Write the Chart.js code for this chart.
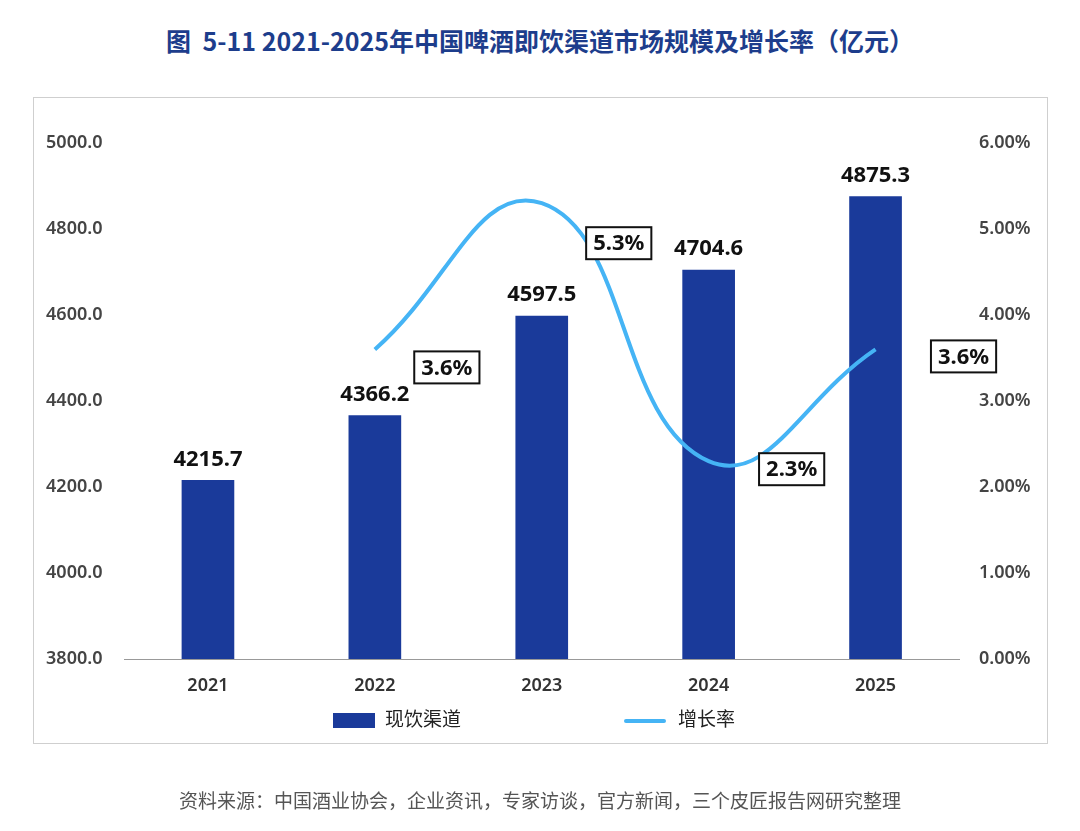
<!DOCTYPE html>
<html>
<head>
<meta charset="utf-8">
<script src="https://cdn.jsdelivr.net/npm/chart.js@4"></script>
<style>
  body { margin: 0; background: #fff; font-family: "Noto Sans CJK SC", "Noto Sans", sans-serif; }
  #wrap { position: relative; width: 1080px; height: 831px; }
  #title { position: absolute; top: 22px; left: 0; width: 1080px; text-align: center; font-size: 25px; font-weight: bold; color: #1d3d8c; }
  #frame { position: absolute; left: 33px; top: 97px; width: 1013px; height: 645px; border: 1px solid #cfcfcf; }
  canvas { position: absolute; left: 0; top: 0; }
  .leg { position: absolute; top: 704px; font-size: 19px; color: #222; }
  #source { position: absolute; top: 786px; left: 0; width: 1080px; text-align: center; font-size: 19px; color: #555; }
</style>
</head>
<body>
<div id="wrap">
  <div id="title">图&nbsp; 5-11 2021-2025年中国啤酒即饮渠道市场规模及增长率（亿元）</div>
  <div id="frame"></div>
  <canvas id="c" width="1080" height="831"></canvas>
  <div class="leg" style="left:333px;"><span style="display:inline-block;width:42px;height:15px;background:#1a3a9a;vertical-align:middle;margin-right:10px;"></span>现饮渠道</div>
  <div class="leg" style="left:624px;"><span style="display:inline-block;width:42px;height:4px;background:#45b4f5;vertical-align:middle;margin-right:12px;border-radius:2px;"></span>增长率</div>
  <div id="source">资料来源：中国酒业协会，企业资讯，专家访谈，官方新闻，三个皮匠报告网研究整理</div>
</div>
<script>
// data
const years = ["2021", "2022", "2023", "2024", "2025"];
const marketSize = [4215.7, 4366.2, 4597.5, 4704.6, 4875.3];
const growthRate = [null, 3.6, 5.3, 2.3, 3.6];

// draws value labels above bars and boxed labels beside line points
const labelPlugin = {
  id: "labels",
  afterDatasetsDraw(chart) {
    const ctx = chart.ctx;
    ctx.save();
    ctx.font = "bold 22px 'Noto Sans', sans-serif";
    ctx.fillStyle = "#111";
    ctx.textAlign = "center";
    ctx.textBaseline = "bottom";
    chart.getDatasetMeta(0).data.forEach((bar, i) => {
      ctx.fillText(marketSize[i].toFixed(1), bar.x, bar.y - 10);
    });
    const offsets = [null, [72, 18], [77, 40], [83, 8], [88, 7]];
    chart.getDatasetMeta(1).data.forEach((pt, i) => {
      if (growthRate[i] == null) return;
      const txt = growthRate[i].toFixed(1) + "%";
      const cx = pt.x + offsets[i][0], cy = pt.y + offsets[i][1];
      const w = ctx.measureText(txt).width + 14, h = 32;
      ctx.fillStyle = "#fff";
      ctx.fillRect(cx - w / 2, cy - h / 2, w, h);
      ctx.strokeStyle = "#111";
      ctx.lineWidth = 2;
      ctx.strokeRect(cx - w / 2, cy - h / 2, w, h);
      ctx.fillStyle = "#111";
      ctx.textBaseline = "middle";
      ctx.fillText(txt, cx, cy + 1);
    });
    ctx.restore();
  }
};

const tickFont = { size: 18, weight: "600", family: "'Noto Sans', sans-serif" };

new Chart(document.getElementById("c"), {
  type: "bar",
  data: {
    labels: years,
    datasets: [
      {
        label: "现饮渠道",
        data: marketSize,
        backgroundColor: "#1a3a9a",
        barThickness: 52,
        yAxisID: "y",
        order: 2
      },
      {
        type: "line",
        label: "增长率",
        data: growthRate,
        borderColor: "#45b4f5",
        borderWidth: 4,
        pointRadius: 0,
        tension: 0.45,
        yAxisID: "y1",
        order: 1
      }
    ]
  },
  options: {
    responsive: false,
    animation: false,
    layout: { padding: { left: 0, right: 0, top: 143, bottom: 132 } },
    plugins: { legend: { display: false }, tooltip: { enabled: false } },
    scales: {
      x: {
        grid: { display: false },
        border: { color: "#999" },
        ticks: { color: "#333", font: tickFont, padding: 8 },
        afterFit(s) { s.height = 40; }
      },
      y: {
        position: "left",
        min: 3800, max: 5000,
        ticks: { stepSize: 200, color: "#444", font: tickFont, padding: 14, callback: v => v.toFixed(1) },
        grid: { display: false },
        border: { display: false },
        afterFit(s) { s.width = 124.5; }
      },
      y1: {
        position: "right",
        min: 0, max: 6,
        ticks: { stepSize: 1, color: "#444", font: tickFont, padding: 12, callback: v => v.toFixed(2) + "%" },
        grid: { display: false },
        border: { display: false },
        afterFit(s) { s.width = 121; }
      }
    }
  },
  plugins: [labelPlugin]
});
</script>
</body>
</html>
